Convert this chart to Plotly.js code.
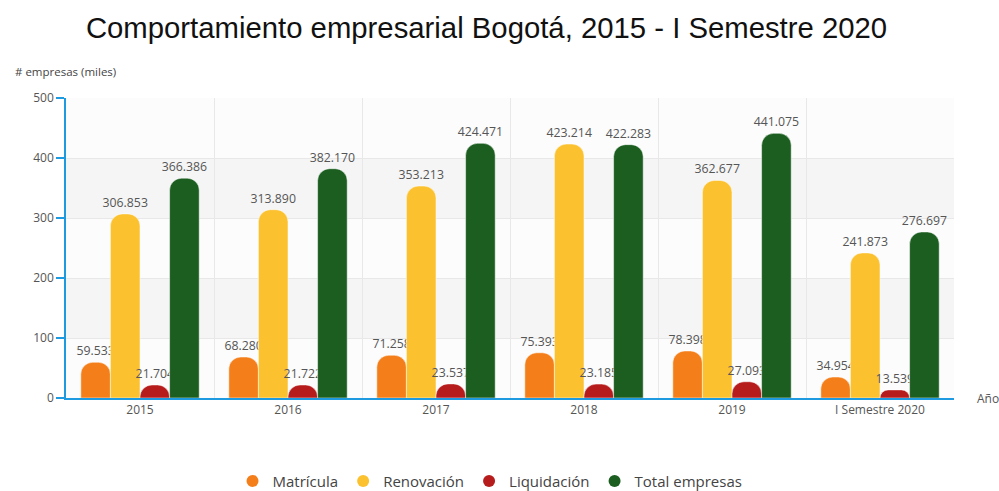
<!DOCTYPE html>
<html>
<head>
<meta charset="utf-8">
<script src="https://cdn.plot.ly/plotly-3.0.1.min.js"></script>
<style>html,body{margin:0;padding:0;background:#fff;}#chart{width:999px;height:491px;}</style>
</head>
<body>
<div id="chart"></div>
<script>
const categories = ["2015", "2016", "2017", "2018", "2019", "I Semestre 2020"];
const matricula = [59.533, 68.280, 71.258, 75.393, 78.398, 34.954];
const renovacion = [306.853, 313.890, 353.213, 423.214, 362.677, 241.873];
const liquidacion = [21.704, 21.722, 23.537, 23.185, 27.093, 13.539];
const totalEmpresas = [366.386, 382.170, 424.471, 422.283, 441.075, 276.697];
const seriesNames = ["Matrícula", "Renovación", "Liquidación", "Total empresas"];
const seriesColors = ["#f47f1a", "#fbc12f", "#b71c1c", "#1b5e20"];
const seriesValues = [matricula, renovacion, liquidacion, totalEmpresas];

const fontFam = "'Open Sans', 'Noto Sans', sans-serif";
const traces = [];
seriesValues.forEach((vals, i) => {
  traces.push({
    type: 'bar',
    x: categories,
    y: vals,
    name: seriesNames[i],
    marker: {color: seriesColors[i], cornerradius: 12, line: {color: '#ffffff', width: 0.5}},
    texttemplate: '%{y:.3f}',
    textposition: 'outside',
    constraintext: 'none',
    cliponaxis: false,
    textfont: {family: fontFam, size: 12.3, color: '#555555'},
    showlegend: false,
    hoverinfo: 'x+y+name'
  });
});
seriesNames.forEach((n, i) => {
  traces.push({
    type: 'scatter', mode: 'markers', x: [null], y: [null], name: n,
    marker: {color: seriesColors[i], size: 18, symbol: 'circle'},
    showlegend: true, hoverinfo: 'skip'
  });
});

const layout = {
  width: 999, height: 491,
  margin: {l: 66, r: 45, t: 98, b: 93, autoexpand: false},
  paper_bgcolor: '#ffffff',
  plot_bgcolor: '#fcfcfc',
  title: {text: 'Comportamiento empresarial Bogotá, 2015 - I Semestre 2020',
          font: {family: "'Liberation Sans', Arial, sans-serif", size: 29.3, color: '#111111'},
          x: 0.487, xanchor: 'center', y: 0.943, yanchor: 'middle'},
  barmode: 'group', bargap: 0.2, bargroupgap: 0,
  font: {family: fontFam, size: 12, color: '#555555'},
  xaxis: {
    type: 'category', tickson: 'boundaries', showgrid: true, gridcolor: '#e8e8e8', gridwidth: 1,
    showline: true, linecolor: '#1e9be0', linewidth: 1.5, ticks: '',
    tickfont: {family: fontFam, size: 12, color: '#555555'},
    zeroline: false, automargin: false
  },
  yaxis: {
    range: [0, 500], dtick: 100, showgrid: true, gridcolor: '#e8e8e8', gridwidth: 1,
    showline: true, linecolor: '#1e9be0', linewidth: 1.5, ticks: 'outside', tickcolor: '#1e9be0',
    ticklen: 8, tickwidth: 1.5,
    tickfont: {family: fontFam, size: 12, color: '#555555'},
    zeroline: false, automargin: false
  },
  shapes: [
    {type: 'rect', xref: 'paper', yref: 'y', x0: 0, x1: 1, y0: 100, y1: 200, fillcolor: '#f5f5f5', line: {width: 0}, layer: 'below'},
    {type: 'rect', xref: 'paper', yref: 'y', x0: 0, x1: 1, y0: 300, y1: 400, fillcolor: '#f5f5f5', line: {width: 0}, layer: 'below'}
  ],
  annotations: [
    {text: '# empresas (miles)', xref: 'paper', yref: 'paper', x: -0.06, y: 1.087, xanchor: 'left', yanchor: 'middle',
     showarrow: false, font: {family: fontFam, size: 11.5, color: '#444444'}},
    {text: 'Año', xref: 'paper', yref: 'paper', x: 1.024, y: 0, xanchor: 'left', yanchor: 'middle',
     showarrow: false, font: {family: fontFam, size: 12, color: '#555555'}}
  ],
  legend: {orientation: 'h', x: 0.4775, xanchor: 'center', yref: 'container', y: 0.02, yanchor: 'middle',
           font: {family: fontFam, size: 15, color: '#444444'}, itemsizing: 'constant', itemwidth: 30, tracegroupgap: 0}
};

Plotly.newPlot('chart', traces, layout, {displayModeBar: false, responsive: false});
</script>
</body>
</html>
